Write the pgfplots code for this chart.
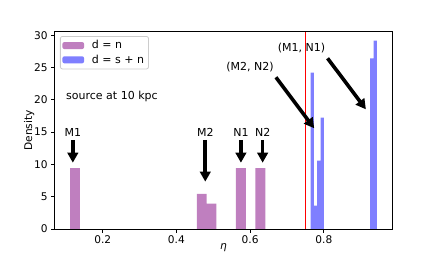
\documentclass[border=0pt]{standalone}
\usepackage{fontspec}
\setmainfont{DejaVu Sans}
\usepackage{pgfplots}
\pgfplotsset{compat=1.18}
\usetikzlibrary{arrows.meta}
\definecolor{hpurple}{RGB}{191,127,191}
\definecolor{hblue}{RGB}{127,127,255}
\definecolor{mred}{RGB}{255,0,0}
\begin{document}
\begin{tikzpicture}[font=\fontsize{11bp}{13.2bp}\selectfont]
\begin{axis}[
  scale only axis, width=337.5bp, height=197.3bp,
  xmin=0.0698, xmax=0.9854, ymin=0, ymax=30.56,
  xtick={0.2,0.4,0.6,0.8}, ytick={0,5,10,15,20,25,30},
  xticklabels={0.2,0.4,0.6,0.8},
  tick align=outside, major tick length=3.6bp,
  tick style={black, line width=0.8bp},
  axis line style={line width=0.8bp},
  xtick pos=bottom, ytick pos=left,
  /pgf/number format/assume math mode=true,
  ticklabel style={font=\fontsize{10.6bp}{12.5bp}\selectfont},
  xlabel={\itshape η}, ylabel={Density},
  label style={font=\fontsize{10.6bp}{12.5bp}\selectfont},
  xlabel style={at={(axis description cs:0.5,-0.0963)}, anchor=center},
  ylabel style={at={(axis description cs:-0.0756,0.5)}, anchor=center},
  legend style={at={(axis description cs:0.0157,0.978)}, anchor=north west,
    draw=black!20, rounded corners=2bp, line width=0.8bp, fill=white,
    inner xsep=2bp, inner ysep=2bp, row sep=0bp, column sep=5.3bp,
    nodes={inner xsep=2.5bp, inner ysep=2.2bp}, font=\fontsize{11bp}{13.2bp}\selectfont},
  legend cell align=left,
]
\addplot[ybar interval, fill=hpurple, draw=none,
  legend image code/.code={\fill[hpurple] (0bp,-3.5bp) rectangle (21.7bp,3.5bp);}]
  coordinates {(0.1114,9.42) (0.1379,0) (0.4556,5.45) (0.4821,3.92) (0.5086,0)
               (0.5616,9.42) (0.5881,0) (0.6145,9.42) (0.6410,0)};
\addlegendentry{d = n}
\addplot[ybar interval, fill=hblue, draw=none,
  legend image code/.code={\fill[hblue] (0bp,-3.5bp) rectangle (21.7bp,3.5bp);}]
  coordinates {(0.7640,24.21) (0.7730,3.61) (0.7820,10.58) (0.7910,17.24) (0.8000,0)
               (0.9258,26.44) (0.9348,29.17) (0.9438,0)};
\addlegendentry{d = s + n}

\addplot[ybar interval, fill=mred, draw=none, forget plot]
  coordinates {(0.7478,30.56) (0.7522,0)};

\node[anchor=west, inner sep=0] at (axis cs:0.1005,20.49) {source at 10 kpc};

\node[inner sep=0] at (axis cs:0.119,14.92) {M1};
\node[inner sep=0] at (axis cs:0.4783,14.92) {M2};
\node[inner sep=0] at (axis cs:0.5750,14.92) {N1};
\node[inner sep=0] at (axis cs:0.6339,14.92) {N2};
\node[inner sep=0] at (axis cs:0.5995,25.05) {(M2, N2)};
\node[inner sep=0] at (axis cs:0.7396,27.99) {(M1, N1)};

\begin{scope}[line width=3.6bp, -{Triangle[length=10bp,width=10.5bp]}]
\draw (axis cs:0.119,13.79) -- (axis cs:0.119,10.27);
\draw (axis cs:0.4783,13.79) -- (axis cs:0.4783,7.33);
\draw (axis cs:0.5750,13.79) -- (axis cs:0.5750,10.27);
\draw (axis cs:0.6339,13.79) -- (axis cs:0.6339,10.27);
\draw (axis cs:0.6700,23.50) -- (axis cs:0.7738,15.60);
\draw (axis cs:0.8101,26.44) -- (axis cs:0.9140,18.54);
\end{scope}
\end{axis}
\pgfresetboundingbox
\path ([xshift=-54.7bp, yshift=-33bp]current axis.south west) rectangle ([xshift=43.8bp, yshift=31.7bp]current axis.north east);
\end{tikzpicture}
\end{document}
